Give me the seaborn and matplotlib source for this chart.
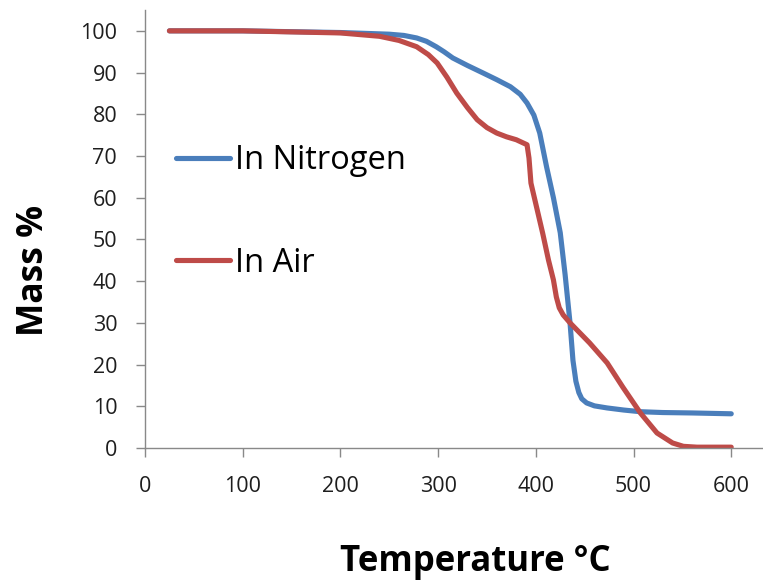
import matplotlib
matplotlib.use("Agg")
import matplotlib.pyplot as plt
import seaborn as sns
import pandas as pd

# ---- data ----
temp_n2 = [25, 100, 200, 250, 265, 278, 288, 298, 306, 315, 330, 346, 360, 374,
           384, 391, 398, 404, 411, 418, 425, 430, 435, 438, 441, 444, 447, 452,
           460, 473, 490, 507, 530, 560, 600]
mass_n2 = [100, 100, 99.6, 99.2, 98.9, 98.3, 97.5, 96.2, 95.0, 93.5, 91.7, 89.9,
           88.3, 86.6, 84.8, 82.7, 79.8, 75.5, 67.4, 60.0, 51.6, 41.5, 30.0, 21.0,
           16.0, 13.3, 11.8, 10.8, 10.1, 9.6, 9.1, 8.7, 8.5, 8.4, 8.2]

temp_air = [25, 100, 200, 240, 260, 278, 290, 299, 309, 319, 330, 340, 350, 360,
            370, 380, 391, 393, 395, 399, 407, 413, 418, 421, 424, 428, 435, 445,
            455, 473, 489, 507, 524, 540, 551, 565, 600]
mass_air = [100, 100, 99.5, 98.7, 97.7, 96.2, 94.3, 92.3, 88.9, 85.1, 81.6, 78.7,
            76.8, 75.5, 74.6, 73.9, 72.7, 69.5, 63.5, 59.5, 51.5, 45.0, 40.3, 36.2,
            33.6, 31.9, 30.0, 27.6, 25.2, 20.4, 14.6, 8.4, 3.6, 1.2, 0.4, 0.2, 0.2]

series_names = ["In Nitrogen", "In Air"]
series_colors = ["#4A7EBB", "#BE4B48"]

x_ticks = [0, 100, 200, 300, 400, 500, 600]
y_ticks = [0, 10, 20, 30, 40, 50, 60, 70, 80, 90, 100]

x_label = "Temperature °C"
y_label = "Mass %"

df = pd.concat([
    pd.DataFrame({"T": temp_n2, "M": mass_n2, "s": series_names[0]}),
    pd.DataFrame({"T": temp_air, "M": mass_air, "s": series_names[1]}),
], ignore_index=True)

sns.set_theme(style="white")
plt.rcParams["font.family"] = ["Open Sans", "DejaVu Sans"]

fig = plt.figure(figsize=(7.63, 5.83), dpi=100)
ax = fig.add_axes([145 / 763, 1 - 448 / 583, 618 / 763, 438 / 583])

sns.lineplot(data=df, x="T", y="M", hue="s", hue_order=series_names,
             palette=series_colors, sort=False, estimator=None,
             linewidth=3.7, ax=ax, legend=True)
for ln in ax.get_lines():
    ln.set_solid_capstyle("round")
    ln.set_solid_joinstyle("round")

ax.set_xlim(0, 632.5)
ax.set_ylim(0, 105)
ax.set_xticks(x_ticks)
ax.set_yticks(y_ticks)
ax.set_xticklabels([str(v) for v in x_ticks])
ax.set_yticklabels([str(v) for v in y_ticks])

grey = "#898989"
for side in ["top", "right"]:
    ax.spines[side].set_visible(False)
for side in ["left", "bottom"]:
    ax.spines[side].set_color(grey)
    ax.spines[side].set_linewidth(1.0)
ax.tick_params(axis="both", which="major", direction="out", length=6.5,
               width=1.0, color=grey, labelsize=15.5, labelcolor="#1e1e1e",
               pad=13.5, left=True, bottom=True)

ax.set_xlabel(x_label, fontsize=25, fontweight="bold", color="black")
ax.set_ylabel(y_label, fontsize=25.5, fontweight="bold", color="black")
ax.xaxis.set_label_coords((475 - 145) / 618, (448 - 544) / 438)
ax.yaxis.set_label_coords((52 - 145) / 618, (448 - 270) / 438)

handles, labels = ax.get_legend_handles_labels()
leg = ax.legend(handles, labels, loc="upper left",
                bbox_to_anchor=((176 - 145) / 618, (448 - 144) / 438),
                frameon=False, fontsize=23.5, handlelength=1.65,
                handletextpad=0.15, labelspacing=2.14, borderpad=0,
                borderaxespad=0)
for h in leg.get_lines():
    h.set_linewidth(3.7)
    h.set_solid_capstyle("round")
for t in leg.get_texts():
    t.set_color("black")

fig.savefig("out.png", dpi=100)
